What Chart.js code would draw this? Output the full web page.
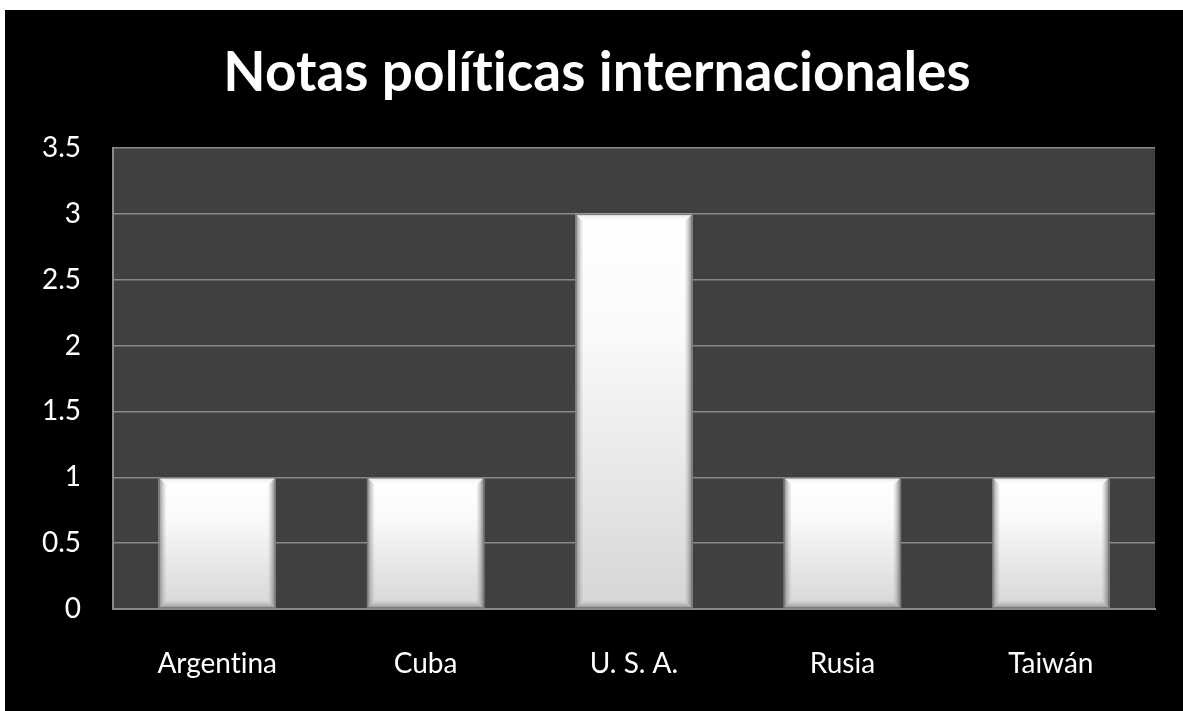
<!DOCTYPE html>
<html>
<head>
<meta charset="utf-8">
<title>Notas políticas internacionales</title>
<script src="https://cdn.jsdelivr.net/npm/chart.js@4"></script>
<style>
    html, body {
        margin: 0;
        padding: 0;
        background: #ffffff;
        overflow: hidden;
    }
    #wrap {
        position: absolute;
        left: 5px;
        top: 10px;
        width: 1178px;
        height: 701px;
        background: #000000;
    }
</style>
</head>
<body>
<div id="wrap"><canvas id="notasChart" width="1178" height="701"></canvas></div>
<script>
// Chart data
const countries = ['Argentina', 'Cuba', 'U. S. A.', 'Rusia', 'Taiwán'];
const notas = [1, 1, 3, 1, 1];
const yTicks = [0, 0.5, 1, 1.5, 2, 2.5, 3, 3.5];
const chartTitle = 'Notas políticas internacionales';

const FONT = 'Lato, "Open Sans", sans-serif';

// Lato joins "ti" into a ligature; a zero-width non-joiner keeps the letters apart
function noLigature(text) {
    return text.replace(/ti/g, 't\u200Ci');
}

// Fill the plot area with dark gray before anything else is drawn
const plotBackground = {
    id: 'plotBackground',
    beforeDraw(chart) {
        const { ctx, chartArea } = chart;
        ctx.save();
        ctx.fillStyle = '#404040';
        ctx.fillRect(chartArea.left, chartArea.top, chartArea.right - chartArea.left, chartArea.bottom - chartArea.top);
        ctx.restore();
    }
};

// Bevelled edges on every bar
const barBevel = {
    id: 'barBevel',
    afterDatasetsDraw(chart) {
        const ctx = chart.ctx;
        const meta = chart.getDatasetMeta(0);
        const b = 8;
        meta.data.forEach(bar => {
            const p = bar.getProps(['x', 'y', 'base', 'width'], true);
            const l = p.x - p.width / 2, r = p.x + p.width / 2;
            const t = p.y, btm = p.base;
            ctx.save();

            // left
            let g = ctx.createLinearGradient(l, 0, l + b, 0);
            g.addColorStop(0, 'rgba(120,120,120,0.85)');
            g.addColorStop(1, 'rgba(160,160,160,0)');
            ctx.fillStyle = g;
            ctx.beginPath();
            ctx.moveTo(l, t); ctx.lineTo(l + b, t + b); ctx.lineTo(l + b, btm - b); ctx.lineTo(l, btm);
            ctx.closePath(); ctx.fill();

            // right
            g = ctx.createLinearGradient(r, 0, r - b, 0);
            g.addColorStop(0, 'rgba(110,110,110,0.9)');
            g.addColorStop(1, 'rgba(160,160,160,0)');
            ctx.fillStyle = g;
            ctx.beginPath();
            ctx.moveTo(r, t); ctx.lineTo(r - b, t + b); ctx.lineTo(r - b, btm - b); ctx.lineTo(r, btm);
            ctx.closePath(); ctx.fill();

            // bottom
            g = ctx.createLinearGradient(0, btm, 0, btm - b);
            g.addColorStop(0, 'rgba(130,130,130,0.85)');
            g.addColorStop(1, 'rgba(170,170,170,0)');
            ctx.fillStyle = g;
            ctx.beginPath();
            ctx.moveTo(l, btm); ctx.lineTo(l + b, btm - b); ctx.lineTo(r - b, btm - b); ctx.lineTo(r, btm);
            ctx.closePath(); ctx.fill();

            // top
            g = ctx.createLinearGradient(0, t, 0, t + b);
            g.addColorStop(0, 'rgba(210,210,210,0.7)');
            g.addColorStop(1, 'rgba(255,255,255,0)');
            ctx.fillStyle = g;
            ctx.beginPath();
            ctx.moveTo(l, t); ctx.lineTo(l + b, t + b); ctx.lineTo(r - b, t + b); ctx.lineTo(r, t);
            ctx.closePath(); ctx.fill();

            ctx.strokeStyle = '#7a7a7a';
            ctx.lineWidth = 1.5;
            ctx.strokeRect(l + 0.5, t + 0.5, r - l - 1, btm - t - 1);
            ctx.restore();
        });
    }
};

// White-to-gray vertical gradient for each bar, sized from its own value
function barGradient(context) {
    const chart = context.chart;
    const yScale = chart.scales.y;
    if (!chart.chartArea || !yScale || context.raw === undefined) return '#eeeeee';
    const top = yScale.getPixelForValue(context.raw);
    const base = yScale.getPixelForValue(0);
    const g = chart.ctx.createLinearGradient(0, top, 0, base);
    g.addColorStop(0, '#ffffff');
    g.addColorStop(0.3, '#fafafa');
    g.addColorStop(1, '#d6d6d6');
    return g;
}

const ctx = document.getElementById('notasChart');

new Chart(ctx, {
    type: 'bar',
    data: {
        labels: countries,
        datasets: [{
            label: 'Notas',
            data: notas,
            backgroundColor: barGradient,
            borderWidth: 0,
            categoryPercentage: 1,
            barPercentage: 0.562
        }]
    },
    options: {
        responsive: false,
        animation: false,
        layout: {
            padding: { left: 34, right: 28, top: 0, bottom: 0 }
        },
        plugins: {
            legend: { display: false },
            tooltip: { enabled: false },
            title: {
                display: true,
                text: noLigature(chartTitle),
                color: '#ffffff',
                font: { family: FONT, size: 55, weight: 'bold', lineHeight: 1.2 },
                padding: { top: 30, bottom: 42 }
            }
        },
        scales: {
            y: {
                min: 0,
                max: 3.5,
                afterBuildTicks(scale) {
                    scale.ticks = yTicks.map(v => ({ value: v }));
                },
                afterFit(scale) {
                    scale.width = 74;
                },
                ticks: {
                    color: '#ffffff',
                    padding: 32,
                    font: { family: FONT, size: 28 },
                    callback: v => String(v)
                },
                grid: {
                    color: '#888888',
                    lineWidth: 1.5,
                    drawTicks: false
                },
                border: { display: true, color: '#8a8a8a', width: 2 }
            },
            x: {
                afterFit(scale) {
                    scale.height = 102;
                },
                ticks: {
                    color: '#ffffff',
                    padding: 38,
                    font: { family: FONT, size: 28 },
                    callback: (v, i) => noLigature(countries[i])
                },
                grid: { display: false, drawTicks: false },
                border: { display: true, color: '#8a8a8a', width: 2 }
            }
        }
    },
    plugins: [plotBackground, barBevel]
});
</script>
</body>
</html>
